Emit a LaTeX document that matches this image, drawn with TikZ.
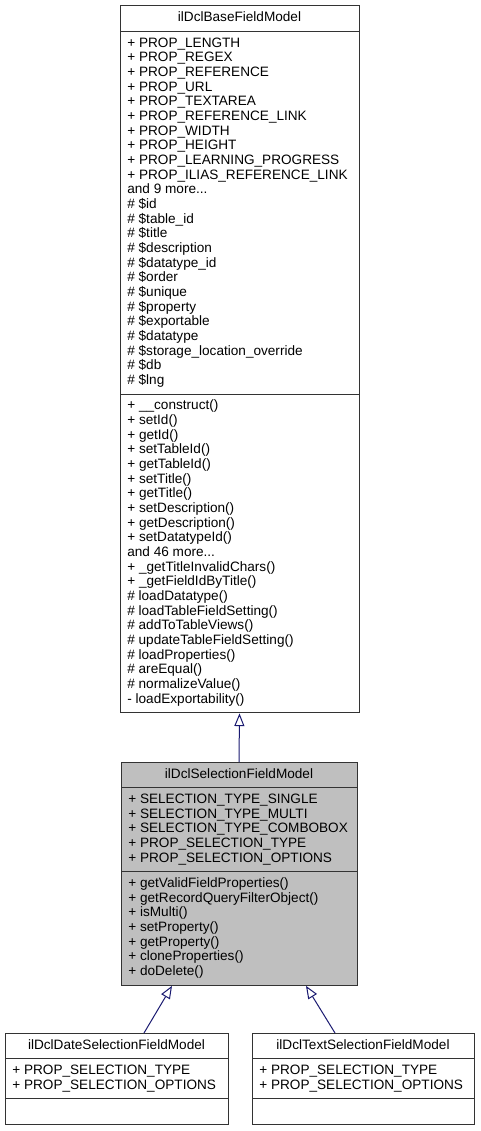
\documentclass[tikz,border=0pt]{standalone}
\usepackage{fontspec}
\setmainfont{Liberation Sans}
\usetikzlibrary{arrows.meta,shapes.multipart,calc}
\definecolor{edgeblue}{RGB}{25,25,112}
\definecolor{selgray}{RGB}{191,191,191}

\begin{document}
\begin{tikzpicture}[x=0.75pt,y=-0.75pt,
 every node/.style={font=\fontsize{10.2}{11}\selectfont},
 cls/.style={draw=black!80,line width=0.75pt,rectangle split,rectangle split parts=3,
 rectangle split part align={center,left,left},align=left,anchor=north,
 inner xsep=5.5pt,inner ysep=3.65pt},
 inh/.style={draw=edgeblue,line width=0.75pt,
 -{Triangle[fill=white,length=9.5pt,width=7.5pt]}}]
\useasboundingbox (0,0) rectangle (480,1131);
\node[cls,minimum width=179.25pt] (base) at (239.5,5.5)
 {\strut ilDclBaseFieldModel\strut
 \nodepart{two}\strut + PROP\_LENGTH\\
 + PROP\_REGEX\\
 + PROP\_REFERENCE\\
 + PROP\_URL\\
 + PROP\_TEXTAREA\\
 + PROP\_REFERENCE\_LINK\\
 + PROP\_WIDTH\\
 + PROP\_HEIGHT\\
 + PROP\_LEARNING\_PROGRESS\\
 + PROP\_ILIAS\_REFERENCE\_LINK\\
 and 9 more...\\
 \# \$id\\
 \# \$table\_id\\
 \# \$title\\
 \# \$description\\
 \# \$datatype\_id\\
 \# \$order\\
 \# \$unique\\
 \# \$property\\
 \# \$exportable\\
 \# \$datatype\\
 \# \$storage\_location\_override\\
 \# \$db\\
 \# \$lng\strut
 \nodepart{three}\strut + \_\_construct()\\
 + setId()\\
 + getId()\\
 + setTableId()\\
 + getTableId()\\
 + setTitle()\\
 + getTitle()\\
 + setDescription()\\
 + getDescription()\\
 + setDatatypeId()\\
 and 46 more...\\
 + \_getTitleInvalidChars()\\
 + \_getFieldIdByTitle()\\
 \# loadDatatype()\\
 \# loadTableFieldSetting()\\
 \# addToTableViews()\\
 \# updateTableFieldSetting()\\
 \# loadProperties()\\
 \# areEqual()\\
 \# normalizeValue()\\
 - loadExportability()\strut};
\node[cls,fill=selgray,minimum width=177pt] (sel) at (239,762)
 {\strut ilDclSelectionFieldModel\strut
 \nodepart{two}\strut + SELECTION\_TYPE\_SINGLE\\
 + SELECTION\_TYPE\_MULTI\\
 + SELECTION\_TYPE\_COMBOBOX\\
 + PROP\_SELECTION\_TYPE\\
 + PROP\_SELECTION\_OPTIONS\strut
 \nodepart{three}\strut + getValidFieldProperties()\\
 + getRecordQueryFilterObject()\\
 + isMulti()\\
 + setProperty()\\
 + getProperty()\\
 + cloneProperties()\\
 + doDelete()\strut};
\node[cls,minimum width=167.25pt] (datesel) at (116.5,1033)
 {\strut ilDclDateSelectionFieldModel\strut
 \nodepart{two}\strut + PROP\_SELECTION\_TYPE\\
 + PROP\_SELECTION\_OPTIONS\strut
 \nodepart{three}\strut};
\node[cls,minimum width=166.5pt] (textsel) at (363,1033)
 {\strut ilDclTextSelectionFieldModel\strut
 \nodepart{two}\strut + PROP\_SELECTION\_TYPE\\
 + PROP\_SELECTION\_OPTIONS\strut
 \nodepart{three}\strut};
\draw[inh] (sel.north) -- (base.south);
\draw[inh] ($(datesel.north)+(27.5,0)$) -- ($(sel.south)+(-67,0)$);
\draw[inh] ($(textsel.north)+(-28,0)$) -- ($(sel.south)+(67,0)$);
\end{tikzpicture}
\end{document}
